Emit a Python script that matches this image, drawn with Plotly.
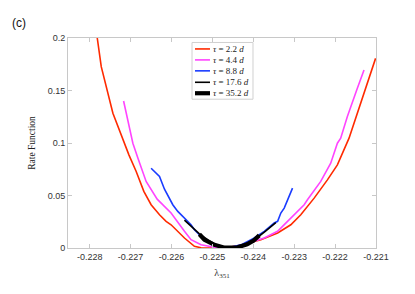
import plotly.graph_objects as go

# tau = 2.2 d
x_22 = [-0.227815, -0.227717, -0.227432, -0.227146, -0.227041, -0.226863, -0.226676, -0.226498,
        -0.226293, -0.226132, -0.226010, -0.225683, -0.225439, -0.225278, -0.225000, -0.224700,
        -0.224400, -0.224139, -0.223815, -0.223405, -0.223083, -0.222839, -0.222512, -0.222188,
        -0.221944, -0.221659, -0.221537, -0.221293, -0.221010]
y_22 = [0.2000, 0.1727, 0.1283, 0.0998, 0.0887, 0.0729, 0.0539, 0.0412,
        0.0317, 0.0254, 0.0221, 0.0095, 0.0016, 0.0002, 0.0000, 0.0000,
        0.0020, 0.0048, 0.0079, 0.0143, 0.0221, 0.0317, 0.0475, 0.0649,
        0.0792, 0.1046, 0.1188, 0.1473, 0.1806]

# tau = 4.4 d
x_44 = [-0.227171, -0.226944, -0.226822, -0.226620, -0.226350, -0.226107, -0.226010, -0.225683,
        -0.225522, -0.225278, -0.224951, -0.224600, -0.224250, -0.223732, -0.223407, -0.223163,
        -0.223000, -0.222756, -0.222676, -0.222351, -0.222107, -0.221944, -0.221863, -0.221700,
        -0.221456, -0.221293]
y_44 = [0.1400, 0.0998, 0.0856, 0.0634, 0.0465, 0.0364, 0.0333, 0.0159,
        0.0079, 0.0031, 0.0007, 0.0000, 0.0030, 0.0095, 0.0159, 0.0254,
        0.0317, 0.0412, 0.0459, 0.0634, 0.0808, 0.0998, 0.1046, 0.1252,
        0.1521, 0.1695]

# tau = 8.8 d
x_88 = [-0.226498, -0.226293, -0.226171, -0.226049, -0.225968, -0.225846, -0.225766, -0.225602,
        -0.225522, -0.225439, -0.225278, -0.224951, -0.224650, -0.224300, -0.223976, -0.223732,
        -0.223488, -0.223405, -0.223327, -0.223244, -0.223041]
y_88 = [0.0760, 0.0681, 0.0560, 0.0475, 0.0412, 0.0349, 0.0317, 0.0254,
        0.0221, 0.0174, 0.0111, 0.0031, 0.0000, 0.0030, 0.0095, 0.0159,
        0.0238, 0.0254, 0.0333, 0.0380, 0.0570]

# tau = 17.6 d
x_176 = [-0.225683, -0.225500, -0.225317, -0.225100, -0.224900, -0.224650, -0.224400, -0.224150,
         -0.223900, -0.223700, -0.223449]
y_176 = [0.0265, 0.0195, 0.0135, 0.0075, 0.0030, 0.0003, 0.0010, 0.0045,
         0.0100, 0.0160, 0.0242]

# tau = 35.2 d
x_352 = [-0.225317, -0.225195, -0.224951, -0.224700, -0.224400, -0.224150, -0.223990, -0.223854]
y_352 = [0.0131, 0.0079, 0.0031, 0.0003, 0.0005, 0.0035, 0.0070, 0.0120]

x_ticks = [-0.228, -0.227, -0.226, -0.225, -0.224, -0.223, -0.222, -0.221]
x_ticktext = ["-0.228", "-0.227", "-0.226", "-0.225", "-0.224", "-0.223", "-0.222", "-0.221"]
y_ticks = [0, 0.05, 0.1, 0.15, 0.2]
y_ticktext = ["0", "0.05", "0.1", "0.15", "0.2"]

series = [
    (x_22, y_22, "<i>τ</i> = 2.2 <i>d</i>", "#ff2a00", 1.6),
    (x_44, y_44, "<i>τ</i> = 4.4 <i>d</i>", "#ff44ff", 1.6),
    (x_88, y_88, "<i>τ</i> = 8.8 <i>d</i>", "#1a3cff", 1.6),
    (x_176, y_176, "<i>τ</i> = 17.6 <i>d</i>", "#000000", 1.6),
    (x_352, y_352, "<i>τ</i> = 35.2 <i>d</i>", "#000000", 4.2),
]

fig = go.Figure()
for xs, ys, name, col, w in series:
    fig.add_trace(go.Scatter(x=xs, y=ys, mode="lines", name=name, showlegend=False,
                             line=dict(color=col, width=w)))

# compact legend box (paper coordinates)
shapes = [dict(type="rect", xref="paper", yref="paper", x0=0.4026, x1=0.6006, y0=0.7085, y1=0.9787,
               line=dict(color="#d0d0d0", width=1), fillcolor="white", layer="above")]
annotations = []
row_y = [0.9479, 0.8957, 0.8436, 0.7891, 0.7370]
for (xs, ys, name, col, w), ry in zip(series, row_y):
    shapes.append(dict(type="line", xref="paper", yref="paper", x0=0.4123, x1=0.4610, y0=ry, y1=ry,
                       line=dict(color=col, width=w), layer="above"))
    annotations.append(dict(text=name, xref="paper", yref="paper", x=0.4643, y=ry,
                            xanchor="left", yanchor="middle", showarrow=False,
                            font=dict(family="Liberation Serif, DejaVu Serif", size=9, color="#222222")))

annotations.append(dict(text="(c)", xref="paper", yref="paper", x=-0.16, y=1.07,
                        xanchor="center", yanchor="middle", showarrow=False,
                        font=dict(family="Liberation Sans, Arial", size=12, color="#111111")))

axis_common = dict(showline=True, linecolor="#c8c8c8", linewidth=1, mirror="ticks",
                   ticks="inside", ticklen=4, tickcolor="#c8c8c8", showgrid=False,
                   zeroline=False, tickfont=dict(family="Liberation Sans, Arial", size=9, color="#333333"))

fig.update_layout(
    width=415, height=294,
    margin=dict(l=60, r=47, t=29.5, b=53.5),
    paper_bgcolor="white", plot_bgcolor="white",
    showlegend=False,
    xaxis=dict(range=[-0.22853, -0.221], tickvals=x_ticks, ticktext=x_ticktext,
               title=dict(text="λ<sub>351</sub>", font=dict(family="Liberation Serif, DejaVu Serif", size=10, color="#333333"), standoff=8),
               **axis_common),
    yaxis=dict(range=[0, 0.2], tickvals=y_ticks, ticktext=y_ticktext,
               title=dict(text="Rate Function", font=dict(family="Liberation Serif, DejaVu Serif", size=9.5, color="#222222"), standoff=10),
               **axis_common),
    shapes=shapes,
    annotations=annotations,
)

fig.write_html("out.html")
